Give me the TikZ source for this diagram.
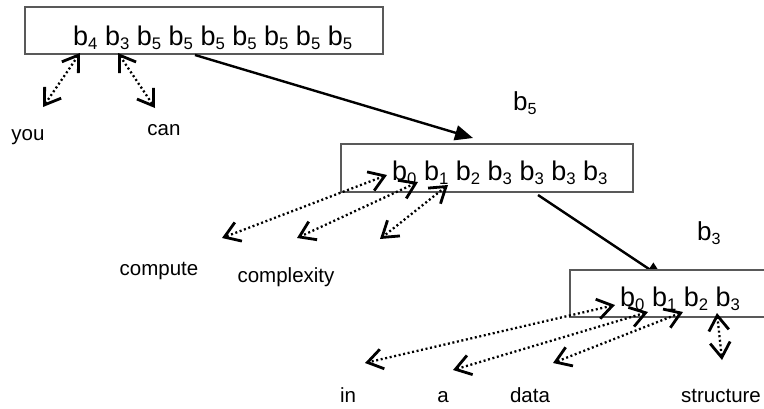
\documentclass[tikz,border=0pt]{standalone}
\usepackage{fontspec}
\setmainfont{Liberation Sans}
\usetikzlibrary{arrows.meta}

% b with a lowered, smaller index
\newcommand\bi[1]{b\raisebox{-0.17em}{\scalebox{0.62}{#1}}}

\tikzset{
  frame/.style={draw=black!65, line width=1.2pt, fill=white, inner sep=0pt, outer sep=0pt},
  seq/.style={anchor=base west, inner sep=0pt, font=\fontsize{27}{30}\selectfont},
  word/.style={anchor=base, inner sep=0pt, font=\fontsize{20.5}{24}\selectfont},
  tag/.style={anchor=base west, inner sep=0pt, font=\fontsize{26}{30}\selectfont},
  child/.style={line width=2.4pt, -{Triangle[length=18pt, width=15pt]}},
  link/.style={line width=2.3pt, dash pattern=on 2pt off 2.6pt,
    {Straight Barb[length=15pt, width=20pt, line width=2.8pt]}-{Straight Barb[length=15pt, width=20pt, line width=2.8pt]}},
}

\begin{document}
\begin{tikzpicture}[x=1pt, y=-1pt]
\useasboundingbox (0,0) rectangle (764,408);
\clip (0,0) rectangle (764,408);

% first level
\node[frame, minimum width=358pt, minimum height=47pt] (box1) at (204,30.5) {};
\node[seq] (seq1) at (73,45) {\bi4 \bi3 \bi5 \bi5 \bi5 \bi5 \bi5 \bi5 \bi5};

% second level
\coordinate (c1from) at (195,55);
\coordinate (c1to) at (473,138);
\draw[child] (c1from) -- (c1to);
\node[frame, minimum width=292pt, minimum height=48pt] (box2) at (487,168) {};
\node[seq] (seq2) at (392,180) {\bi0 \bi1 \bi2 \bi3 \bi3 \bi3 \bi3};
\node[tag] (tag5) at (513,110) {\bi5};

% third level (box runs past the right border)
\coordinate (c2from) at (538,195);
\coordinate (c2to) at (664,279);
\draw[child] (c2from) -- (c2to);
\node[frame, minimum width=230pt, minimum height=47pt] (box3) at (685,293.5) {};
\node[seq] (seq3) at (620,306) {\bi0 \bi1 \bi2 \bi3};
\node[tag] (tag3) at (697,240) {\bi3};

% words
\node[word] (you) at (28,140) {you};
\node[word] (can) at (164,135) {can};
\node[word] (compute) at (159,275) {compute};
\node[word] (complexity) at (286,282) {complexity};
\node[word] (in) at (348,402) {in};
\node[word] (a) at (443,402) {a};
\node[word] (data) at (530,402) {data};
\node[word] (structure) at (721,402) {structure};

% link ends
\coordinate (s1a) at (80,53);   \coordinate (w1a) at (43,107);
\coordinate (s1b) at (118,53);  \coordinate (w1b) at (155,108);
\coordinate (s2a) at (387,175); \coordinate (w2a) at (222,238);
\coordinate (s2b) at (418,182); \coordinate (w2b) at (297,238);
\coordinate (s2c) at (448,185); \coordinate (w2c) at (380,239);
\coordinate (s3a) at (615,305); \coordinate (w3a) at (365,363);
\coordinate (s3b) at (648,312); \coordinate (w3b) at (453,370);
\coordinate (s3c) at (683,312); \coordinate (w3c) at (553,363);
\coordinate (s3d) at (717,313); \coordinate (w3d) at (722,360);

\draw[link] (s1a) -- (w1a);
\draw[link] (s1b) -- (w1b);
\draw[link] (s2a) -- (w2a);
\draw[link] (s2b) -- (w2b);
\draw[link] (s2c) -- (w2c);
\draw[link] (s3a) -- (w3a);
\draw[link] (s3b) -- (w3b);
\draw[link] (s3c) -- (w3c);
\draw[link] (s3d) -- (w3d);
\end{tikzpicture}
\end{document}
